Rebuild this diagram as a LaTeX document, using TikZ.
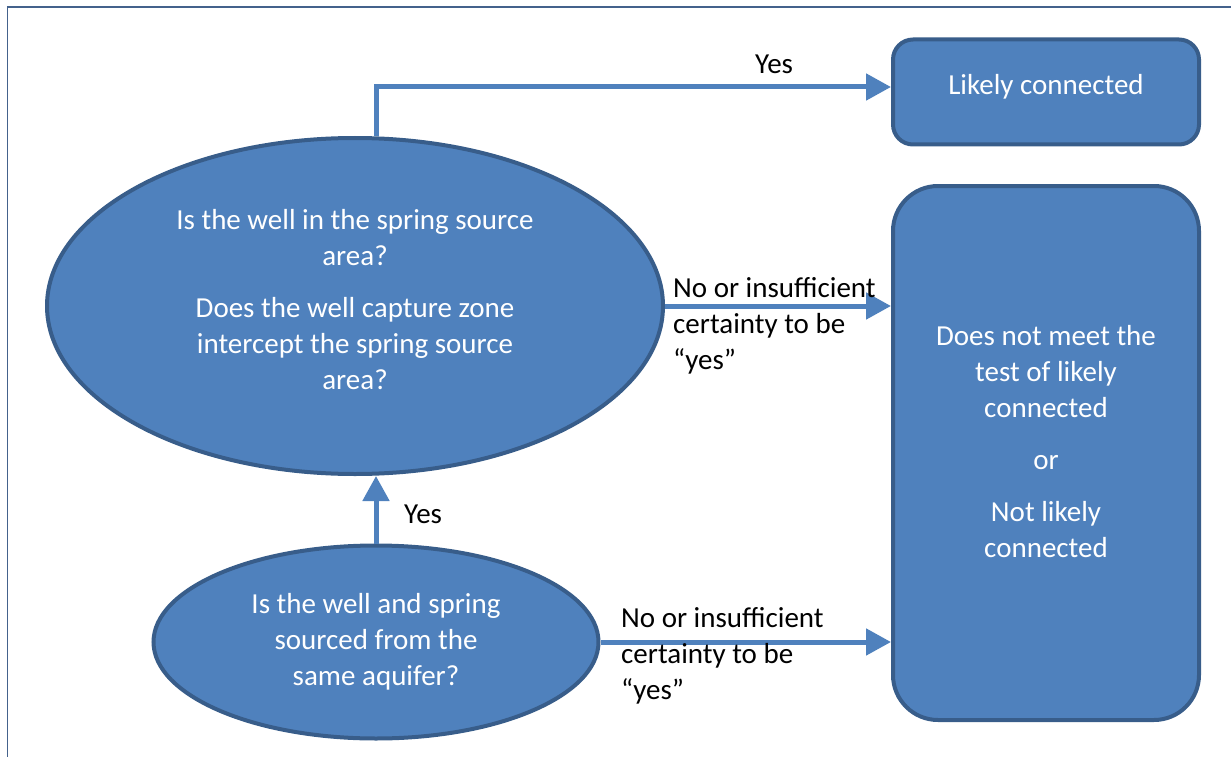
\documentclass[tikz,border=0pt]{standalone}
\usepackage{fontspec}
\setmainfont{Carlito}
\usetikzlibrary{shapes.geometric, arrows.meta, positioning}
\definecolor{flowFill}{HTML}{4F81BD}
\definecolor{flowLine}{HTML}{385D8A}
\definecolor{frameBlue}{HTML}{44628C}

\begin{document}
\begin{tikzpicture}[
  x=1pt, y=-1pt,
  font=\fontsize{29}{36}\selectfont,
  question/.style={ellipse, draw=flowLine, fill=flowFill, line width=4pt, text=white, align=center, inner sep=0pt},
  outcome/.style={rectangle, draw=flowLine, fill=flowFill, line width=4pt, text=white, align=center, minimum width=306pt},
  inside/.style={text=white, align=center, inner sep=0pt},
  lbl/.style={align=left, text=black, inner sep=0pt},
  arrow/.style={-{Triangle[length=25pt, width=26pt]}, line width=5pt, color=flowFill},
]
\useasboundingbox (0,0) rectangle (1231,757);

% Frame
\draw[frameBlue, line width=1.5pt] (7.5,757) -- (7.5,7);
\draw[frameBlue, line width=2.5pt] (6.75,7) -- (1231,7);

% Questions
\node[question, minimum width=616pt, minimum height=336pt] (wellarea) at (355,306) {};
\node[inside, yshift=6pt] (wellareaText) at (wellarea) {Is the well in the spring source\\area?\\[16pt]Does the well capture zone\\intercept the spring source\\area?};
\node[question, minimum width=445pt, minimum height=193pt] (aquifer) at (376,642) {Is the well and spring\\sourced from the\\same aquifer?};

% Outcomes
\node[outcome, minimum height=105pt, rounded corners=20pt] (likely) at (1046,92) {};
\node[inside, yshift=5pt] (likelyText) at (likely) {Likely connected};
\node[outcome, minimum height=534pt, rounded corners=45pt] (notlikely) at (1046,453) {};
\node[inside, yshift=11pt] (notlikelyText) at (notlikely) {Does not meet the\\test of likely\\connected\\[16pt]or\\[16pt]Not likely\\connected};

% Arrows
\draw[arrow] ([xshift=21pt]wellarea.north) |- ([yshift=5pt]likely.west);
\draw[arrow] (wellarea.east) -- (wellarea.east -| notlikely.west);
\draw[arrow] (aquifer.north) -- (aquifer.north |- wellarea.south);
\draw[arrow] (aquifer.east) -- (aquifer.east -| notlikely.west);

% Labels
\node[lbl, anchor=north west] (yesLikely) at (755,55) {Yes};
\node[lbl, anchor=north west] (noWell) at (673,277) {No or insufficient\\certainty to be\\“yes”};
\node[lbl, anchor=north west] (yesWell) at (404,505) {Yes};
\node[lbl, anchor=north west] (noAquifer) at (621,607) {No or insufficient\\certainty to be\\“yes”};

\end{tikzpicture}
\end{document}
